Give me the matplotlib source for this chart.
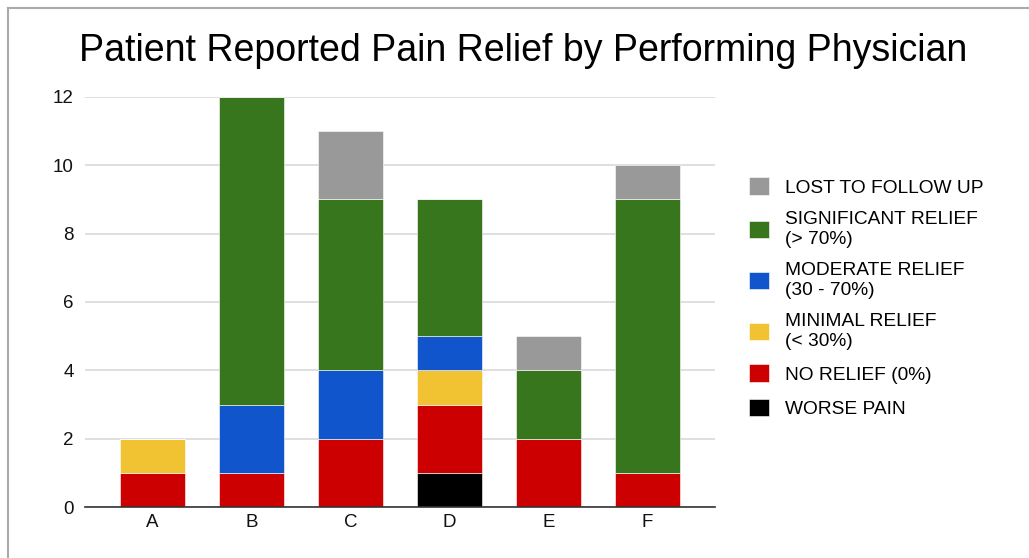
import matplotlib.pyplot as plt
from matplotlib.lines import Line2D
import numpy as np

plt.rcParams["font.family"] = ["Liberation Sans", "DejaVu Sans"]

physicians = ["A", "B", "C", "D", "E", "F"]

# outcome counts per physician, stacked bottom to top
worse_pain = [0, 0, 0, 1, 0, 0]
no_relief = [1, 1, 2, 2, 2, 1]
minimal_relief = [1, 0, 0, 1, 0, 0]
moderate_relief = [0, 2, 2, 1, 0, 0]
significant_relief = [0, 9, 5, 4, 2, 8]
lost_follow_up = [0, 0, 2, 0, 1, 1]

series = [
    ("WORSE PAIN", worse_pain, "#000000"),
    ("NO RELIEF (0%)", no_relief, "#cc0000"),
    ("MINIMAL RELIEF\n(< 30%)", minimal_relief, "#f1c232"),
    ("MODERATE RELIEF\n(30 - 70%)", moderate_relief, "#1155cc"),
    ("SIGNIFICANT RELIEF\n(> 70%)", significant_relief, "#38761d"),
    ("LOST TO FOLLOW UP", lost_follow_up, "#999999"),
]

fig = plt.figure(figsize=(10.29, 5.58), dpi=100)
ax = fig.add_axes([85 / 1029, 51 / 558, 630 / 1029, 410 / 558])

x = np.arange(len(physicians))
bottom = np.zeros(len(physicians))
handles = []
for label, values, color in series:
    vals = np.array(values, dtype=float)
    bars = ax.bar(x, vals, bottom=bottom, width=0.66, color=color,
                  edgecolor="white", linewidth=0.4, label=label, zorder=3)
    handles.append(bars)
    bottom += vals

ax.set_xlim(-0.68, 5.68)
ax.set_ylim(0, 12)
ax.set_yticks(range(0, 13, 2))
ax.set_xticks(x)
ax.set_xticklabels(physicians)
ax.grid(axis="y", color="#d9d9d9", linewidth=1.2, zorder=0)
for side in ["top", "right", "left"]:
    ax.spines[side].set_visible(False)
ax.spines["bottom"].set_color("#333333")
ax.spines["bottom"].set_linewidth(1.2)
ax.spines["bottom"].set_zorder(4)
ax.tick_params(axis="both", length=0, labelsize=13.5, colors="#111111")
ax.tick_params(axis="y", pad=8)
ax.tick_params(axis="x", pad=5)

fig.suptitle("Patient Reported Pain Relief by Performing Physician",
             x=523 / 1029, y=1 - 51 / 558, va="center", fontsize=27)

leg = fig.legend(handles[::-1], [s[0] for s in series][::-1],
                 loc="upper left", bbox_to_anchor=(732 / 1029, 1 - 160 / 558),
                 frameon=False, fontsize=13.8, handlelength=1.05,
                 handleheight=1.05, handletextpad=0.8, labelspacing=0.77)
for txt in leg.get_texts():
    txt.set_linespacing(1.17)

# sheet frame lines
fig.add_artist(Line2D([8 / 1029, 1], [1 - 8 / 558, 1 - 8 / 558],
                      transform=fig.transFigure, color="#aaaaaa", linewidth=1.5))
fig.add_artist(Line2D([8 / 1029, 8 / 1029], [0, 1 - 8 / 558],
                      transform=fig.transFigure, color="#aaaaaa", linewidth=1.5))

fig.savefig("out.png", dpi=100)
